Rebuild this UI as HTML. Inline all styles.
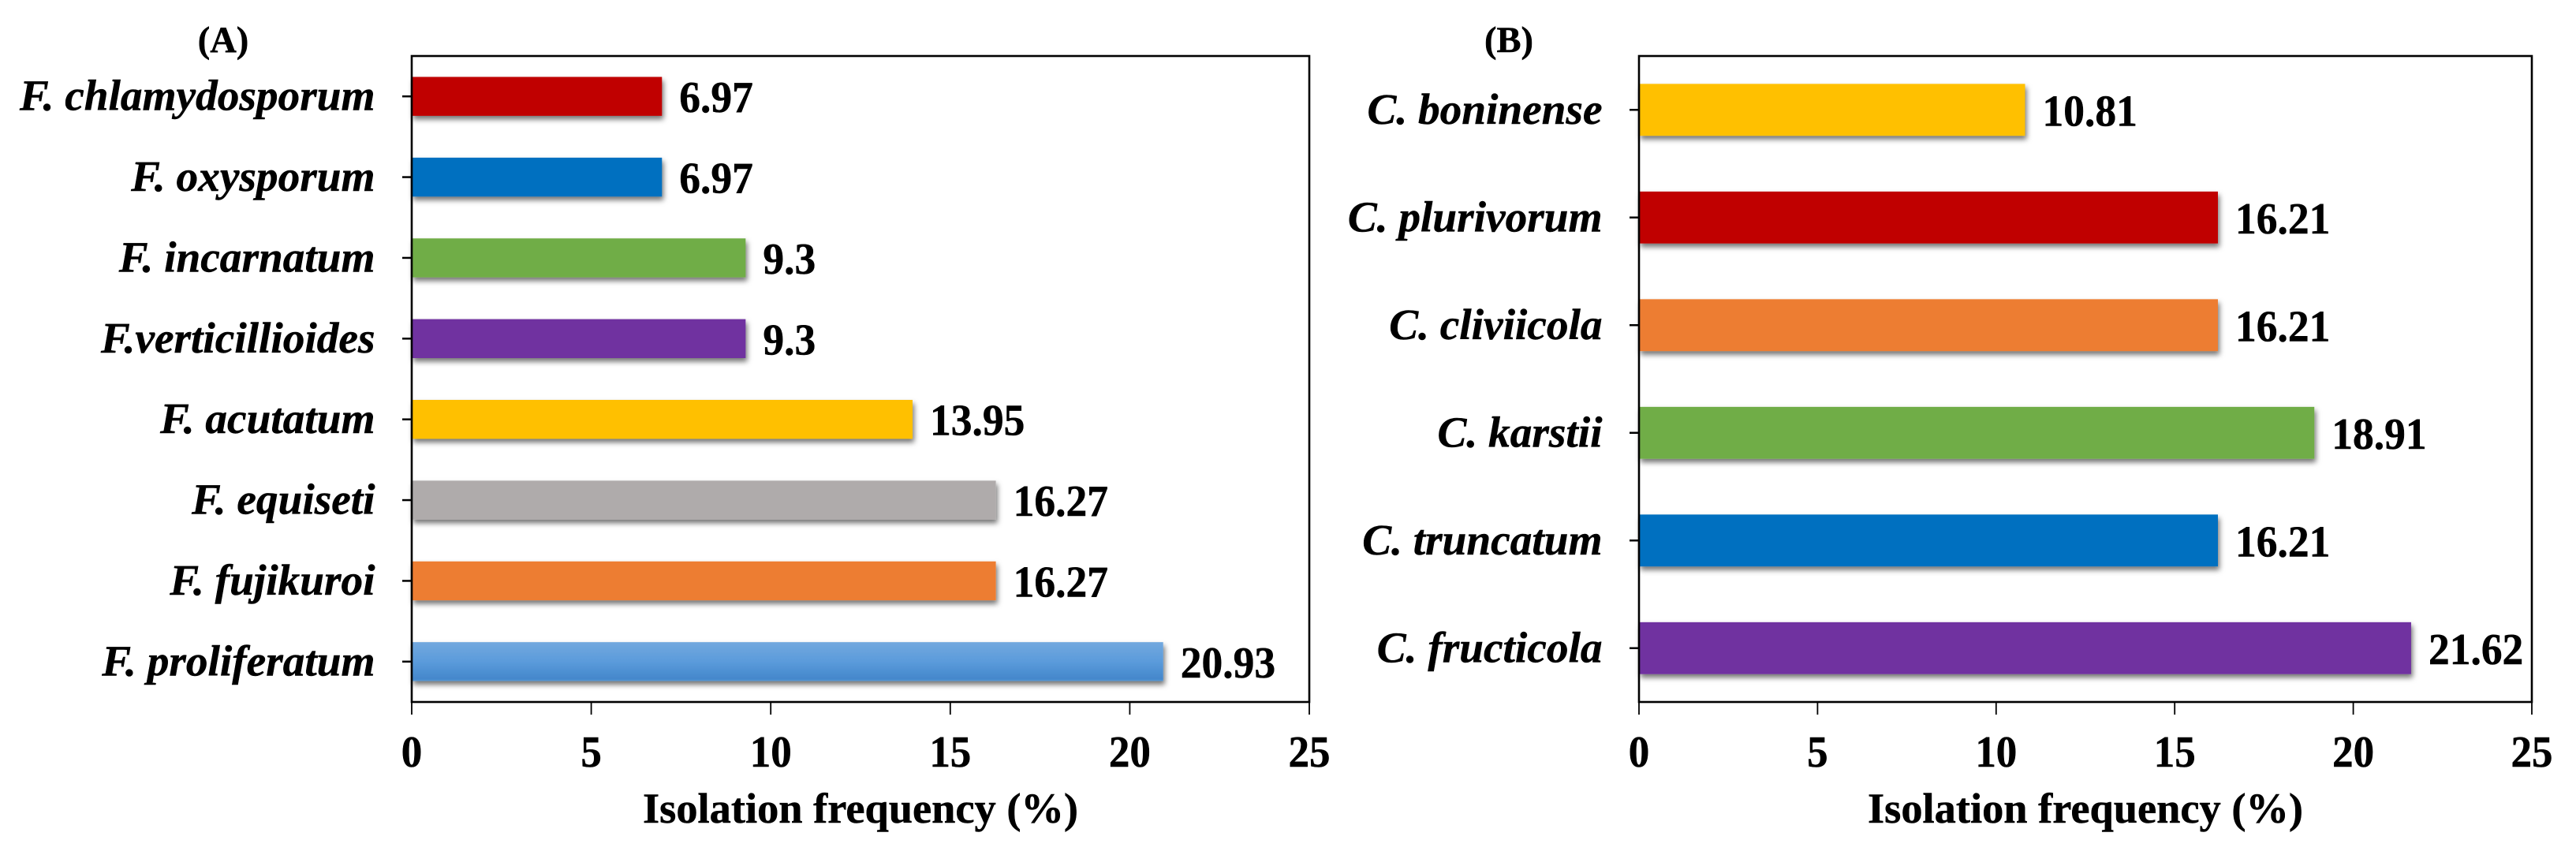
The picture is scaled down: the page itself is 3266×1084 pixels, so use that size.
<!DOCTYPE html>
<html lang="en">
<head>
<meta charset="utf-8">
<title>Isolation frequency of Fusarium and Colletotrichum species</title>
<style>
html,body{margin:0;padding:0;background:#fff;}
body{width:3266px;height:1084px;overflow:hidden;}
svg{display:block;}
text{font-family:"Liberation Serif",serif;font-weight:bold;fill:#000;stroke:#000;stroke-width:0.5px;}
</style>
</head>
<body>
<svg id="chart" xmlns="http://www.w3.org/2000/svg" width="3266" height="1084" viewBox="0 0 3266 1084">
  <defs>
    <filter id="bar-shadow" x="-5%" y="-30%" width="110%" height="170%">
      <feDropShadow dx="2" dy="4.5" stdDeviation="3.5" flood-color="#000" flood-opacity="0.55"/>
    </filter>
    <linearGradient id="blue-gradient" x1="0" y1="0" x2="0" y2="1">
      <stop offset="0" stop-color="#72a8de"/>
      <stop offset="0.5" stop-color="#5b9bdb"/>
      <stop offset="0.95" stop-color="#4487cb"/>
      <stop offset="1" stop-color="#5b9bd5"/>
    </linearGradient>
  </defs>
</svg>
<script>
const categoriesA = ["F. chlamydosporum", "F. oxysporum", "F. incarnatum", "F.verticillioides", "F. acutatum", "F. equiseti", "F. fujikuroi", "F. proliferatum"];
const valuesA = [6.97, 6.97, 9.3, 9.3, 13.95, 16.27, 16.27, 20.93];
const coloursA = ["#C00000", "#0070C0", "#70AD47", "#7030A0", "#FFC000", "#AFABAB", "#ED7D31", "url(#blue-gradient)"];

const categoriesB = ["C. boninense", "C. plurivorum", "C. cliviicola", "C. karstii", "C. truncatum", "C. fructicola"];
const valuesB = [10.81, 16.21, 16.21, 18.91, 16.21, 21.62];
const coloursB = ["#FFC000", "#C00000", "#ED7D31", "#70AD47", "#0070C0", "#7030A0"];

const xTickValues = [0, 5, 10, 15, 20, 25];
const xAxisTitle = "Isolation frequency (%)";

const NS = "http://www.w3.org/2000/svg";
const root = document.getElementById("chart");

function make(parent, tag, attrs, content) {
  const el = document.createElementNS(NS, tag);
  for (const k in attrs) el.setAttribute(k, attrs[k]);
  if (content !== undefined) el.textContent = content;
  parent.appendChild(el);
  return el;
}

function stretched(x, y) {
  return "translate(" + x + "," + y + ") scale(1,1.05)";
}

function drawPanel(panelName, heading, headingX, left, right, categories, values, colours) {
  const top = 71, bottom = 890, xMax = xTickValues[xTickValues.length - 1];
  const xScale = v => left + (right - left) * v / xMax;
  const band = (bottom - top) / categories.length;
  const yCenter = i => top + band * (i + 0.5);
  const barHeight = band * 0.482;

  const panel = make(root, "g", {});
  
  

  const title = make(panel, "text", {x: headingX, y: 66, "text-anchor": "middle", "font-size": 46.5}, heading);
  
  

  categories.forEach((name, i) => {
    const cy = yCenter(i);
    const bar = make(panel, "rect", {
      x: xScale(0), y: cy - barHeight / 2,
      width: xScale(values[i]) - xScale(0), height: barHeight,
      fill: colours[i], filter: "url(#bar-shadow)"
    });
    
    

    const valueLabel = make(panel, "text", {transform: stretched(xScale(values[i]) + 22, cy + 20), "font-size": 53.5}, String(values[i]));
    
    

    const catLabel = make(panel, "text", {x: left - 46.5, y: cy + 17.5, "text-anchor": "end", "font-size": 55.3, "font-style": "italic"}, name);
    
    

    const yTick = make(panel, "line", {x1: left - 12, x2: left, y1: cy, y2: cy, stroke: "#000", "stroke-width": 2.5});
    
    
  });

  const frame = make(panel, "rect", {x: left, y: top, width: right - left, height: bottom - top, fill: "none", stroke: "#000", "stroke-width": 2.6});
  
  

  xTickValues.forEach(t => {
    const tick = make(panel, "line", {x1: xScale(t), x2: xScale(t), y1: bottom, y2: bottom + 16, stroke: "#000", "stroke-width": 1.8});
    
    

    const tickLabel = make(panel, "text", {transform: stretched(xScale(t), 972), "text-anchor": "middle", "font-size": 53}, String(t));
    
    
  });

  const axisTitle = make(panel, "text", {x: (left + right) / 2, y: 1043, "text-anchor": "middle", "font-size": 54.4}, xAxisTitle);
  
  
}

drawPanel("panel-a-fusarium", "(A)", 283, 522, 1660, categoriesA, valuesA, coloursA);
drawPanel("panel-b-colletotrichum", "(B)", 1913, 2078, 3210, categoriesB, valuesB, coloursB);
</script>
</body>
</html>
